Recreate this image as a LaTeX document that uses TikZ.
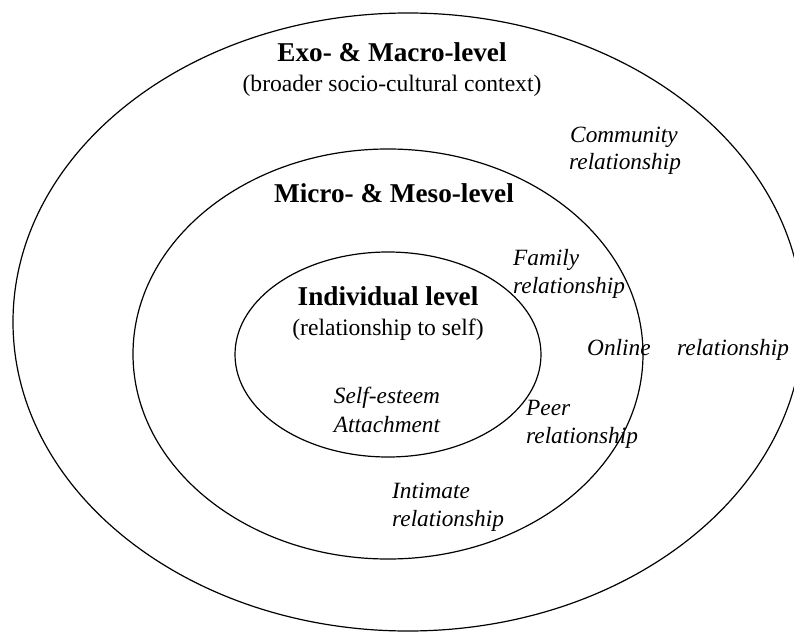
\documentclass[tikz,border=0pt]{standalone}
\usepackage{fontspec}
\setmainfont{Liberation Serif}
\usetikzlibrary{shapes.geometric}
\tikzset{
  ring/.style={draw, ellipse, inner sep=0pt, line width=1.2pt},
  head/.style={inner sep=0pt, anchor=base, font=\fontsize{27.2}{32}\selectfont\bfseries},
  note/.style={inner sep=0pt, anchor=base, font=\fontsize{23.6}{28}\selectfont},
  item/.style={inner sep=0pt, anchor=base west, font=\fontsize{23.3}{28}\selectfont\itshape},
  itemc/.style={item, anchor=base}
}
\begin{document}
\begin{tikzpicture}[x=1pt,y=-1pt]
\useasboundingbox (0,0) rectangle (794,631);
\clip (0,0) rectangle (794,631);
\fill[white] (0,0) rectangle (794,631);
% nested levels
\node[ring, minimum width=790pt, minimum height=618pt] (outer) at (408,322) {};
\node[ring, minimum width=510pt, minimum height=410pt] (middle) at (388,354) {};
\node[ring, minimum width=306pt, minimum height=205pt] (inner) at (388,354.5) {};
% outer level
\node[head] (exo) at (392,62) {Exo- \& Macro-level};
\node[note] (exosub) at (392,92) {(broader socio-cultural context)};
\node[item] (comm) at (570,143) {Community};
\node[item] (commrel) at (569,170) {relationship};
% middle level
\node[head] (micro) at (394,202) {Micro- \& Meso-level};
\node[item] (fam) at (513,265) {Family};
\node[item] (famrel) at (513,293) {relationship};
\node[item] (online) at (587,355) {Online};
\node[item] (onlinerel) at (677,355) {relationship};
\node[item] (peer) at (526,415) {Peer};
\node[item] (peerrel) at (526,443) {relationship};
\node[item] (intim) at (392,498) {Intimate};
\node[item] (intimrel) at (392,526) {relationship};
% inner level
\node[head] (indiv) at (388,305) {Individual level};
\node[note] (indivsub) at (388,335) {(relationship to self)};
\node[itemc] (esteem) at (387,403) {Self-esteem};
\node[itemc] (attach) at (387,432) {Attachment};
\end{tikzpicture}
\end{document}
